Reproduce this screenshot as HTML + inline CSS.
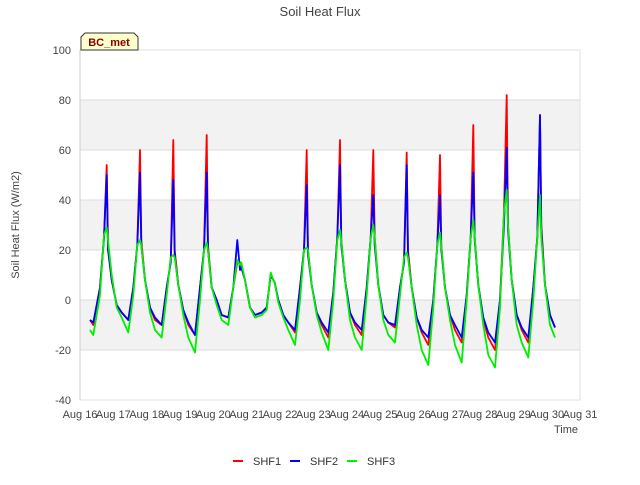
<!DOCTYPE html>
<html><head><meta charset="utf-8"><style>
body{margin:0;background:#fff;font-family:"Liberation Sans",sans-serif}
</style></head><body>
<svg id="c" width="640" height="480" xmlns="http://www.w3.org/2000/svg" font-family="Liberation Sans, sans-serif"></svg>
<script>
const xTickLabels=["Aug 16","Aug 17","Aug 18","Aug 19","Aug 20","Aug 21","Aug 22","Aug 23","Aug 24","Aug 25","Aug 26","Aug 27","Aug 28","Aug 29","Aug 30","Aug 31"];
const yTicks=[-40,-20,0,20,40,60,80,100];
const times=[0.3,0.4,0.6,0.72,0.8,0.84,0.95,
1.1,1.25,1.45,1.6,1.72,1.8,1.84,1.95,
2.1,2.25,2.45,2.6,2.72,2.8,2.84,2.95,
3.1,3.25,3.45,3.6,3.72,3.8,3.84,3.95,
4.1,4.25,4.45,4.6,4.72,4.8,4.84,4.95,
5.1,5.25,5.45,5.6,5.72,5.8,5.84,5.95,
6.1,6.25,6.45,6.6,6.72,6.8,6.84,6.95,
7.1,7.25,7.45,7.6,7.72,7.8,7.84,7.95,
8.1,8.25,8.45,8.6,8.72,8.8,8.84,8.95,
9.1,9.25,9.45,9.6,9.72,9.8,9.84,9.95,
10.1,10.25,10.45,10.6,10.72,10.8,10.84,10.95,
11.1,11.25,11.45,11.6,11.72,11.8,11.84,11.95,
12.1,12.25,12.45,12.6,12.72,12.8,12.84,12.95,
13.1,13.25,13.45,13.6,13.72,13.8,13.84,13.95,
14.1,14.25];
const shf1=[-8,-10,5,25,54,22,8,
-2,-5,-8,5,22,60,24,8,
-3,-8,-10,5,15,64,20,6,
-4,-10,-14,5,20,66,22,5,
0,-6,-7,5,15,15,14,8,
-3,-6,-5,-3,10,8,7,0,
-6,-9,-13,5,20,60,20,6,
-5,-10,-15,3,25,64,24,8,
-5,-10,-14,5,25,60,25,6,
-6,-9,-11,5,15,59,20,5,
-7,-13,-18,0,22,58,22,5,
-6,-12,-17,2,25,70,25,6,
-8,-15,-20,0,35,82,30,8,
-6,-12,-17,5,25,74,30,6,
-6,-11];
const shf2=[-8,-9,5,25,50,20,8,
-2,-5,-8,5,22,51,22,8,
-3,-7,-10,5,15,48,18,6,
-4,-9,-14,5,20,51,20,5,
0,-6,-7,5,24,12,13,8,
-3,-6,-5,-3,10,8,7,0,
-6,-9,-12,5,20,46,18,6,
-5,-9,-13,3,25,54,22,8,
-5,-9,-12,5,25,42,22,6,
-6,-9,-10,5,15,54,18,5,
-7,-12,-15,0,22,42,20,5,
-6,-10,-15,2,25,51,24,6,
-7,-13,-17,0,30,61,28,8,
-6,-11,-15,5,25,74,28,6,
-6,-11];
const shf3=[-12,-14,2,26,29,24,10,
-3,-7,-13,2,22,24,22,8,
-5,-12,-15,2,17,18,17,6,
-6,-15,-21,0,20,23,20,5,
-2,-8,-10,5,16,14,15,8,
-3,-7,-6,-4,11,8,7,-1,
-7,-12,-18,0,20,21,20,6,
-6,-13,-20,0,24,28,24,8,
-8,-15,-20,2,25,30,25,6,
-8,-14,-17,2,17,19,17,5,
-10,-20,-26,-3,22,27,22,5,
-8,-18,-25,0,25,32,25,6,
-10,-22,-27,-3,35,44,30,8,
-10,-17,-23,0,25,42,25,6,
-10,-15];
const NS="http://www.w3.org/2000/svg";
const svg=document.getElementById('c');
const L=80,R=580,T=50,B=400;
const xs=t=>L+(R-L)*t/15;
const ys=v=>B-(B-T)*(v+40)/140;
function el(tag,attrs,parent){const e=document.createElementNS(NS,tag);for(const k in attrs)e.setAttribute(k,attrs[k]);(parent||svg).appendChild(e);return e;}
function txt(s,attrs){const e=el('text',attrs);e.textContent=s;return e;}
const bg=el('rect',{x:L,y:T,width:R-L,height:B-T,fill:'#fff'});


for(let i=0;i<yTicks.length-1;i++){
  if(i%2===1){
    const b=el('rect',{x:L,y:ys(yTicks[i+1]),width:R-L,height:ys(yTicks[i])-ys(yTicks[i+1]),fill:'#f2f2f2'});
    
    
  }
}
yTicks.forEach(v=>{
  const g=el('line',{x1:L,x2:R,y1:ys(v),y2:ys(v),stroke:'#dcdcdc','stroke-width':1});
  
  
  const t=txt(String(v),{x:L-9,y:ys(v)+4,'text-anchor':'end','font-size':11,fill:'#444'});
  
  
});
xTickLabels.forEach((s,i)=>{
  const t=txt(s,{x:xs(i),y:B+18,'text-anchor':'middle','font-size':11,fill:'#444'});
  
  
});
const frame=el('rect',{x:L,y:T,width:R-L,height:B-T,fill:'none',stroke:'#e0e0e0'});


const ax=el('line',{x1:L,x2:L,y1:T,y2:B,stroke:'#ccc'});


const series=[[shf1,'#ff0000','SHF1'],[shf2,'#0000ff','SHF2'],[shf3,'#00ee00','SHF3']];
series.forEach(([d,c,n])=>{
  const p=el('polyline',{points:times.map((t,i)=>xs(t).toFixed(1)+','+ys(d[i]).toFixed(1)).join(' '),fill:'none',stroke:c,'stroke-width':1.8,'stroke-linejoin':'round'});
  
  
});
const tt=txt('Soil Heat Flux',{x:320,y:16,'text-anchor':'middle','font-size':13,fill:'#444'});


const yt=txt('Soil Heat Flux (W/m2)',{x:0,y:0,transform:'translate(19,225) rotate(-90)','text-anchor':'middle','font-size':11,fill:'#444'});


const xt=txt('Time',{x:578,y:433,'text-anchor':'end','font-size':11,fill:'#444'});


const bx=el('path',{d:'M81,50 L81,37 L85,33 L134,33 L138,37 L138,50 Z',fill:'#ffffcc',stroke:'#333','stroke-width':1});


const bt=txt('BC_met',{x:109,y:46,'text-anchor':'middle','font-size':11,'font-weight':'bold',fill:'#8b0000'});


const lx=[233,290,347];
series.forEach(([d,c,n],i)=>{
  const ll=el('line',{x1:lx[i],x2:lx[i]+10,y1:461,y2:461,stroke:c,'stroke-width':2});
  
  
  const lt=txt(n,{x:lx[i]+20,y:465,'font-size':11,fill:'#333'});
  
  
});
</script>
</body></html>
